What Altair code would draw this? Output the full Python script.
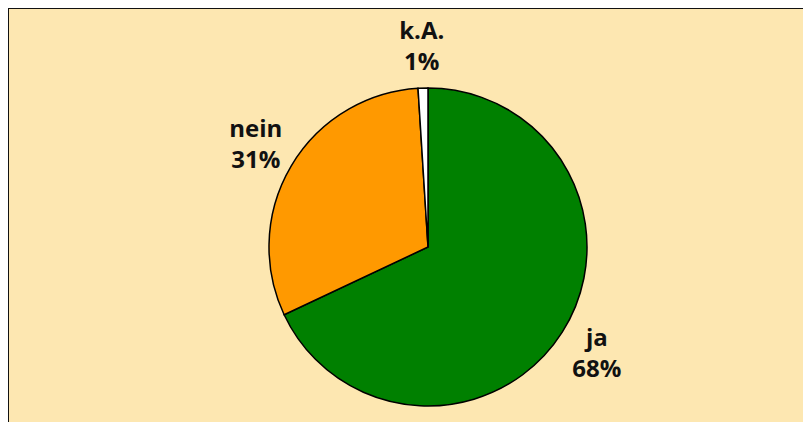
import altair as alt
import pandas as pd

categories = ["ja", "nein", "k.A."]
values = [68, 31, 1]
colors = ["#008000", "#FF9900", "#FFFFFF"]

df = pd.DataFrame({
    "cat": categories,
    "value": values,
    "order": list(range(len(categories))),
    "label": [f"{c}\n{v}%" for c, v in zip(categories, values)],
})

W, H = 795, 414
cx, cy = 420, 239

base = alt.Chart(df).encode(
    theta=alt.Theta("value:Q", stack=True),
    order=alt.Order("order:Q"),
)

pie = base.mark_arc(outerRadius=159, stroke="black", strokeWidth=1.5).encode(
    color=alt.Color("cat:N", scale=alt.Scale(domain=categories, range=colors), legend=None),
    x=alt.value(cx),
    y=alt.value(cy),
)

text = base.mark_text(
    radius=200, font="Open Sans", fontWeight="bold", fontSize=24,
    lineBreak="\n", lineHeight=31, align="center", baseline="middle",
    color="#111111", dy=-15,
).encode(
    text="label:N",
    x=alt.value(cx),
    y=alt.value(cy),
)

frame = alt.Chart(pd.DataFrame({"k": [0]}))
left_border = frame.mark_rule(color="#111111", strokeWidth=2).encode(
    x=alt.value(0), y=alt.value(0), y2=alt.value(H)
)
top_border = frame.mark_rule(color="#111111", strokeWidth=2).encode(
    x=alt.value(0), x2=alt.value(W), y=alt.value(0)
)

chart = alt.layer(pie, text, left_border, top_border).properties(
    width=W, height=H,
    autosize=alt.AutoSizeParams(type="none"),
    padding=0,
    background="#FDE7B1",
).configure_view(fill="#FDE7B1", stroke=None)

chart.save("out.html", embed_options={"renderer": "svg", "actions": False})
